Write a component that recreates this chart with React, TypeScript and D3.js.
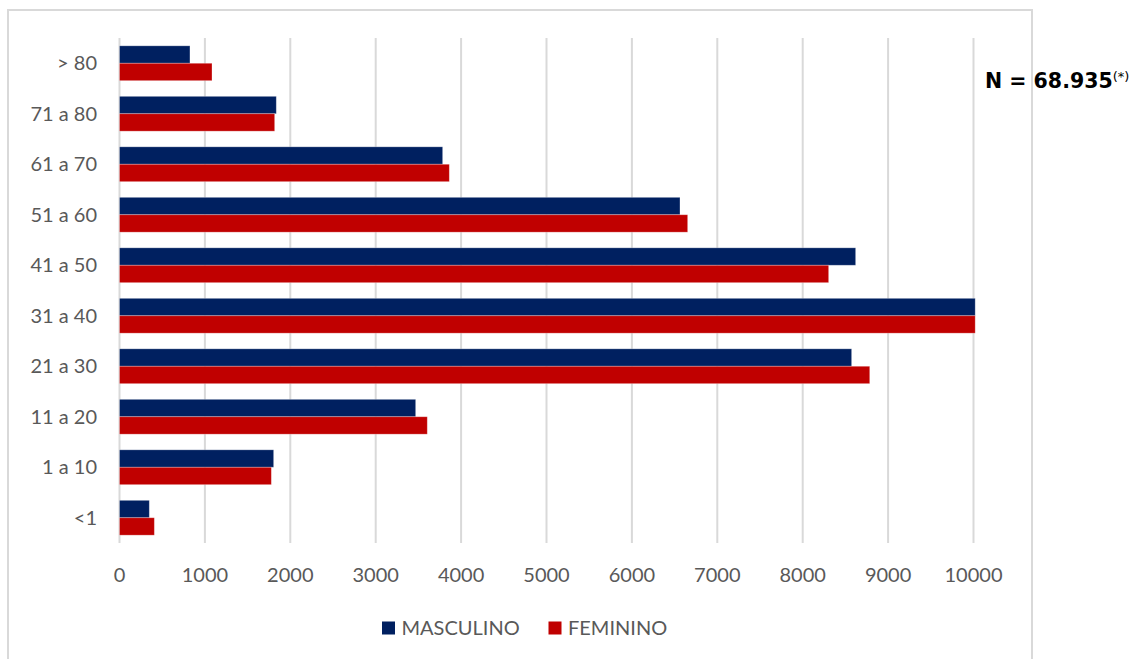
import React from "react";
import * as d3 from "d3";

// Age groups, top to bottom
const categories: string[] = [
  "> 80",
  "71 a 80",
  "61 a 70",
  "51 a 60",
  "41 a 50",
  "31 a 40",
  "21 a 30",
  "11 a 20",
  "1 a 10",
  "<1",
];

const masculino: number[] = [825, 1836, 3784, 6563, 8620, 10020, 8573, 3468, 1805, 349];
const feminino: number[] = [1083, 1817, 3862, 6653, 8304, 10020, 8785, 3604, 1778, 408];

const seriesNames: string[] = ["MASCULINO", "FEMININO"];
const seriesColors: string[] = ["#002060", "#C00000"];

const xTicks: number[] = [0, 1000, 2000, 3000, 4000, 5000, 6000, 7000, 8000, 9000, 10000];

const totalLabel = "N = 68.935";
const totalNote = "(*)";

const W = 1139;
const H = 659;
const plot = { left: 119.5, right: 973.5, top: 38, bottom: 543 };

const labelFont = "Lato, 'Open Sans', sans-serif";
const gray = "#595959";
const gridColor = "#D9D9D9";

export default function App() {
  const x = d3.scaleLinear().domain([0, 10000]).range([plot.left, plot.right]);
  const y = d3
    .scaleBand<string>()
    .domain(categories)
    .range([plot.top, plot.bottom])
    .paddingInner(0.31)
    .paddingOuter(0.155);
  const sub = d3
    .scaleBand<string>()
    .domain(seriesNames)
    .range([0, y.bandwidth()]);

  const values = [masculino, feminino];

  return (
    <svg
      width={W}
      height={H}
      style={{ position: "absolute", left: 0, top: 0, background: "#fff" }}
    >
      {/* chart frame */}
      <rect x={8} y={10} width={1024} height={H + 20} fill="#fff" stroke={gridColor} strokeWidth={2} />

      {/* vertical gridlines */}
      {xTicks.map((t) => (
        <line
          key={`g${t}`}
          x1={x(t)}
          x2={x(t)}
          y1={plot.top}
          y2={plot.bottom}
          stroke={gridColor}
          strokeWidth={2}
        />
      ))}

      {/* bars */}
      {categories.map((c, i) =>
        seriesNames.map((s, k) => (
          <rect
            key={`${c}-${s}`}
            x={x(0)}
            y={(y(c) as number) + (sub(s) as number)}
            width={x(values[k][i]) - x(0)}
            height={sub.bandwidth()}
            fill={seriesColors[k]}
            stroke="#ffffff"
            strokeOpacity={0.35}
            strokeWidth={0.8}
          />
        ))
      )}

      {/* category labels */}
      {categories.map((c) => (
        <text
          key={`l${c}`}
          x={97}
          y={(y(c) as number) + y.bandwidth() / 2}
          dy="0.35em"
          textAnchor="end"
          fontFamily={labelFont}
          fontSize={20}
          fill={gray}
        >
          {c}
        </text>
      ))}

      {/* x tick labels */}
      {xTicks.map((t) => (
        <text
          key={`t${t}`}
          x={x(t)}
          y={582}
          textAnchor="middle"
          fontFamily={labelFont}
          fontSize={20}
          fill={gray}
        >
          {t}
        </text>
      ))}

      {/* legend */}
      <g>
        <rect x={382} y={621.5} width={13} height={13} fill={seriesColors[0]} />
        <text x={401.5} y={628} dy="0.35em" fontFamily={labelFont} fontSize={20} fill={gray}>
          {seriesNames[0]}
        </text>
        <rect x={548.5} y={621.5} width={13} height={13} fill={seriesColors[1]} />
        <text x={568} y={628} dy="0.35em" fontFamily={labelFont} fontSize={20} fill={gray}>
          {seriesNames[1]}
        </text>
      </g>

      {/* total annotation */}
      <text x={985} y={88} fontFamily="'DejaVu Sans', Verdana, sans-serif" fontWeight="bold" fontSize={20.5} fill="#000">
        {totalLabel}
        <tspan fontWeight="normal" fontSize={13} dy={-7}>
          {totalNote}
        </tspan>
      </text>
    </svg>
  );
}
